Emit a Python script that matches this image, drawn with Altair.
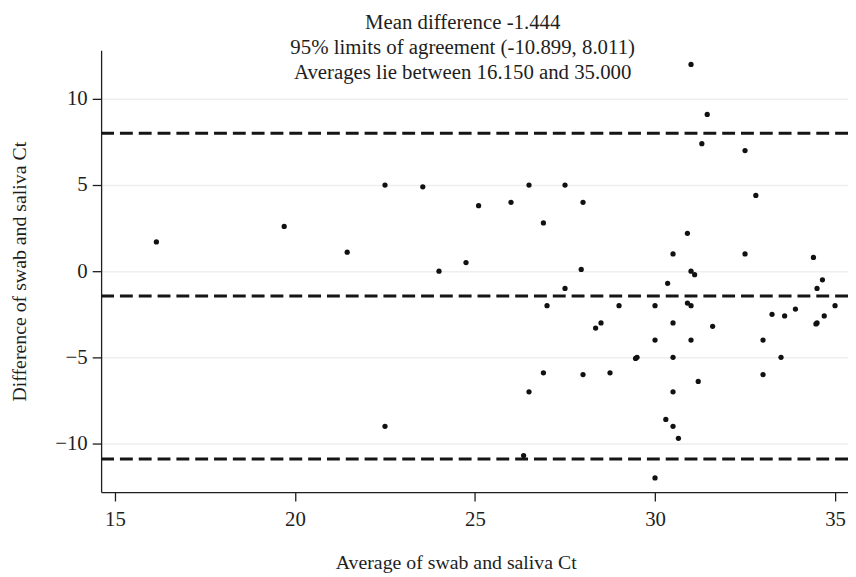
import altair as alt
import pandas as pd

# Average of swab and saliva Ct (x) and their difference (y)
avg = [16.15, 19.7, 21.45, 22.5, 23.55, 22.5, 24.0, 24.75, 25.1, 26.0,
       26.5, 26.9, 27.5, 28.0, 27.95, 27.5, 30.35, 30.5, 30.9, 31.0,
       31.45, 31.3, 32.5, 32.8, 32.5, 31.0, 31.1, 34.4, 34.65, 34.5,
       27.0, 29.0, 30.0, 30.9, 31.0, 33.25, 33.6, 33.9, 35.0, 34.7,
       34.5, 34.47, 28.35, 28.5, 30.5, 31.6, 30.0, 31.0, 33.0, 29.5,
       29.46, 30.5, 33.5, 26.9, 28.0, 28.75, 33.0, 31.2, 26.5, 30.5,
       30.3, 30.5, 30.65, 26.35, 30.0]
diff = [1.7, 2.6, 1.1, 5.0, 4.9, -9.0, 0.0, 0.5, 3.8, 4.0,
        5.0, 2.8, 5.0, 4.0, 0.1, -1.0, -0.7, 1.0, 2.2, 12.0,
        9.1, 7.4, 7.0, 4.4, 1.0, 0.0, -0.2, 0.8, -0.5, -1.0,
        -2.0, -2.0, -2.0, -1.85, -2.0, -2.5, -2.6, -2.2, -2.0, -2.6,
        -3.0, -3.06, -3.3, -3.0, -3.0, -3.2, -4.0, -4.0, -4.0, -5.0,
        -5.06, -5.0, -5.0, -5.9, -6.0, -5.9, -6.0, -6.4, -7.0, -7.0,
        -8.6, -9.0, -9.7, -10.7, -12.0]

ref_lines = [8.011, -1.444, -10.899]  # upper LoA, mean difference, lower LoA
title_lines = [
    "Mean difference -1.444",
    "95% limits of agreement (-10.899, 8.011)",
    "Averages lie between 16.150 and 35.000",
]
x_ticks = [15, 20, 25, 30, 35]
y_ticks = [-10, -5, 0, 5, 10]

FONT = "Liberation Serif"
INK = "#1e1e1e"

df = pd.DataFrame({"avg": avg, "diff": diff})
lines_df = pd.DataFrame({"y": ref_lines})

x_scale = alt.Scale(domain=[14.615, 35.36], nice=False, zero=False)
y_scale = alt.Scale(domain=[-12.82, 12.82], nice=False, zero=False)

rules = alt.Chart(lines_df).mark_rule(
    strokeDash=[13, 6], strokeWidth=3, color="#151515"
).encode(
    y=alt.Y("y:Q", scale=y_scale)
)

points = alt.Chart(df).mark_circle(size=28, color="#111111", opacity=1).encode(
    x=alt.X(
        "avg:Q",
        scale=x_scale,
        axis=alt.Axis(
            title="Average of swab and saliva Ct",
            values=x_ticks,
            grid=False,
            labelPadding=8,
            titleX=358,
            titleY=71,
            titleBaseline="middle",
        ),
    ),
    y=alt.Y(
        "diff:Q",
        scale=y_scale,
        axis=alt.Axis(
            title="Difference of swab and saliva Ct",
            values=y_ticks,
            grid=True,
            labelPadding=5,
            titleX=-82,
            titleY=223,
            titleBaseline="middle",
        ),
    ),
)

chart = alt.layer(rules, points).properties(
    width=754,
    height=446,
    autosize="none",
    padding={"left": 94, "top": 40, "right": 0, "bottom": 81},
    title=alt.TitleParams(
        text=title_lines,
        font=FONT,
        fontSize=21,
        fontWeight="normal",
        color=INK,
        anchor="middle",
        lineHeight=25,
        dx=-12,
        dy=33,
        offset=0,
    ),
).configure_view(
    stroke=None
).configure_axis(
    domainColor=INK,
    domainWidth=1.3,
    tickColor=INK,
    tickSize=9,
    tickWidth=1.3,
    labelFont=FONT,
    labelFontSize=21,
    labelColor=INK,
    titleFont=FONT,
    titleFontSize=20,
    titleFontWeight="normal",
    titleColor=INK,
    gridColor="#eeeeee",
    gridWidth=1.5,
)

chart.save("out.html", embed_options={"renderer": "svg", "actions": False})
